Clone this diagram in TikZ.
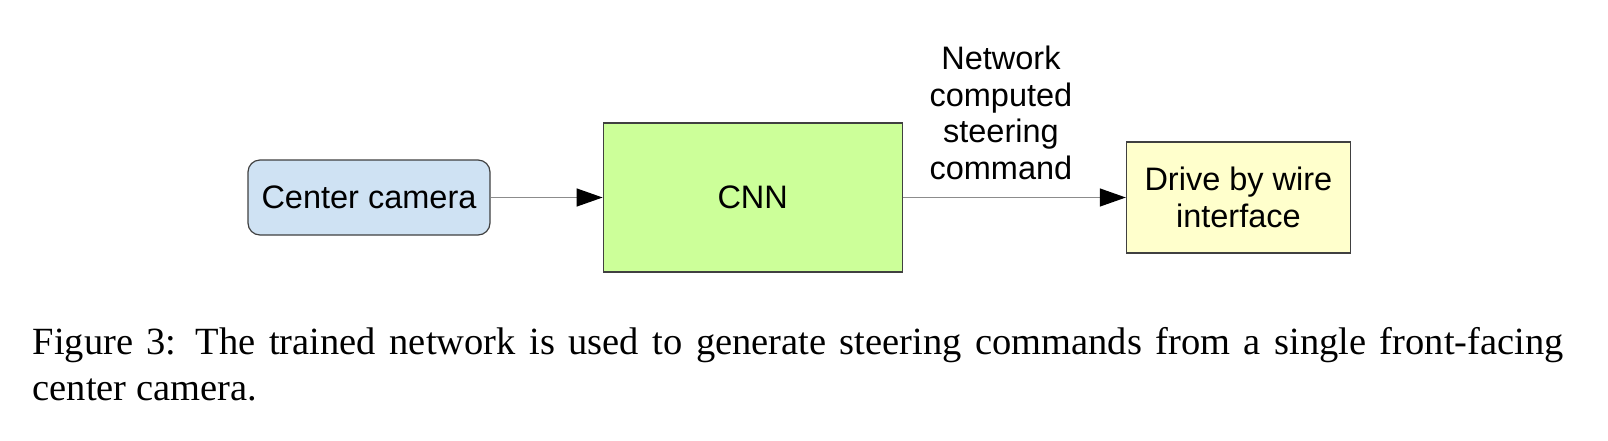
\documentclass[tikz,border=0pt]{standalone}
\usepackage{fontspec}
\setmainfont{Liberation Serif}
\setsansfont{Liberation Sans}
\usetikzlibrary{arrows.meta}
\usetikzlibrary{positioning}
\definecolor{camblue}{HTML}{CFE2F3}
\definecolor{cnngreen}{HTML}{CCFF99}
\definecolor{dbwyellow}{HTML}{FFFFCC}
\tikzset{
  block/.style={draw=black!75, line width=1.2pt, inner sep=0pt, align=center,
    font=\sffamily\fontsize{32.5}{37}\selectfont},
  feed/.style={draw=black!45, line width=1.3pt,
    -{Triangle[length=26pt,width=18pt,color=black]}},
  lbl/.style={inner sep=0pt, align=center, font=\sffamily\fontsize{32.5}{36.6}\selectfont},
}

\begin{document}
\begin{tikzpicture}[x=1pt,y=-1pt]
      \useasboundingbox (0,0) rectangle (1608,440);

      \node[block, rounded corners=12pt, fill=camblue, minimum width=242pt, minimum height=75pt] (cam) at (369,197.5) {Center camera};
      \node[block, fill=cnngreen, minimum width=299pt, minimum height=149pt, right=112pt of cam] (cnn) {CNN};
      \node[block, fill=dbwyellow, minimum width=224pt, minimum height=111pt, right=223pt of cnn] (dbw) {Drive by wire\\interface};

      \draw[feed] (cam) -- (cnn);
      \draw[feed] (cnn) -- (dbw) node[lbl, pos=0.44, above=17pt] (cmd) {Network\\computed\\steering\\command};

      \node[anchor=north west, inner sep=0pt, text width=1531pt, align=justify,
        font=\fontsize{38.5}{46}\selectfont] (caption) at (32.5,327)
        {Figure 3:\enspace The trained network is used to generate steering commands from a single front-facing\linebreak center camera.};
    \end{tikzpicture}
\end{document}
